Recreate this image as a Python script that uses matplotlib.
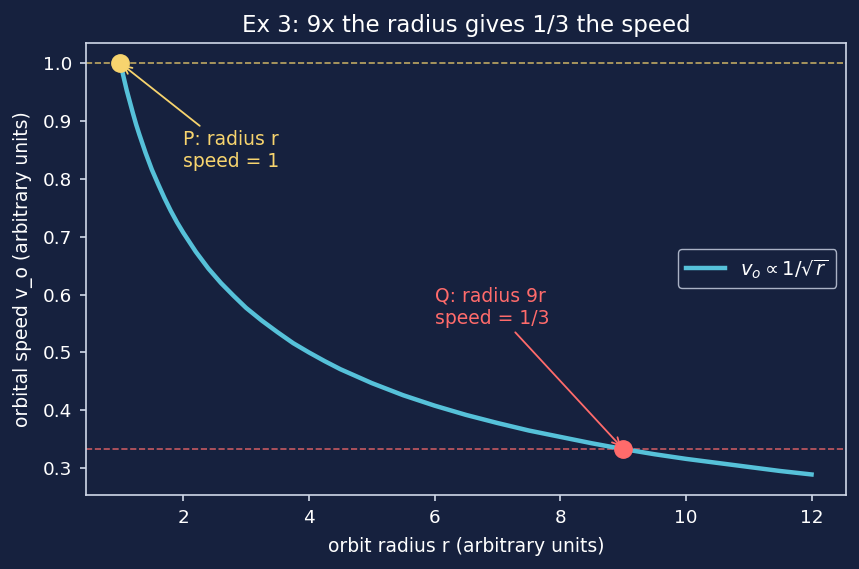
#Orbital speed vs orbit radius: v_o proportional to 1/sqrt(r)
import matplotlib
matplotlib.use("Agg")
from matplotlib import pyplot as plt

#Data
radius = [1.0, 1.05, 1.1, 1.15, 1.2, 1.25, 1.3, 1.4, 1.5, 1.6, 1.7, 1.8, 1.9,
          2.0, 2.2, 2.4, 2.6, 2.8, 3.0, 3.25, 3.5, 3.75, 4.0, 4.25, 4.5, 4.75,
          5.0, 5.5, 6.0, 6.5, 7.0, 7.5, 8.0, 8.5, 9.0, 9.5, 10.0, 10.5, 11.0,
          11.5, 12.0]
speed = [1.0, 0.976, 0.953, 0.933, 0.913, 0.894, 0.877, 0.845, 0.816, 0.791,
         0.767, 0.745, 0.725, 0.707, 0.674, 0.645, 0.620, 0.598, 0.577, 0.555,
         0.535, 0.516, 0.5, 0.485, 0.471, 0.459, 0.447, 0.426, 0.408, 0.392,
         0.378, 0.365, 0.354, 0.343, 0.333, 0.324, 0.316, 0.309, 0.302, 0.295,
         0.289]
p_r, p_v = 1, 1.0
q_r, q_v = 9, 1/3

bg = '#16213e'
fg = '#d0d8e8'
blue = '#56c1d9'
yellow = '#f7d46e'
red = '#ff6b6b'

fig, ax = plt.subplots(figsize=(8.59, 5.69), dpi=100)
fig.patch.set_facecolor(bg)
ax.set_facecolor(bg)

ax.plot(radius, speed, c=blue, lw=3.2, label=r'$v_o \propto 1/\sqrt{r}$', zorder=2)
ax.axhline(p_v, c=yellow, ls='--', lw=1.2, alpha=0.75, zorder=1)
ax.axhline(q_v, c=red, ls='--', lw=1.2, alpha=0.75, zorder=1)
ax.plot([p_r], [p_v], 'o', c=yellow, ms=12.5, zorder=3)
ax.plot([q_r], [q_v], 'o', c=red, ms=12.5, zorder=3)

ax.annotate("P: radius r\nspeed = 1", xy=(p_r, p_v), xytext=(2, 0.82),
            color=yellow, fontsize=13.5,
            arrowprops=dict(arrowstyle='->', color=yellow, lw=1.3))
ax.annotate("Q: radius 9r\nspeed = 1/3", xy=(q_r, q_v), xytext=(6, 0.55),
            color=red, fontsize=13.5,
            arrowprops=dict(arrowstyle='->', color=red, lw=1.3))

#formato de la grafica
ax.set_title("Ex 3: 9x the radius gives 1/3 the speed", color='white',
             fontsize=16.5, pad=8)
ax.set_xlabel("orbit radius r (arbitrary units)", color='white', fontsize=13.5,
              labelpad=7)
ax.set_ylabel("orbital speed v_o (arbitrary units)", color='white', fontsize=13.5,
              labelpad=7)
ax.tick_params(colors=fg, labelcolor='white', labelsize=13.2, length=4.5,
               width=1.2, pad=5.5)
for s in ax.spines.values():
    s.set_color(fg)
    s.set_linewidth(1.2)

leg = ax.legend(loc='center right', facecolor=bg, edgecolor=fg, fontsize=14)
for t in leg.get_texts():
    t.set_color('white')

plt.subplots_adjust(left=0.1, right=0.985, top=0.925, bottom=0.13)
plt.savefig('out.png', facecolor=bg)
